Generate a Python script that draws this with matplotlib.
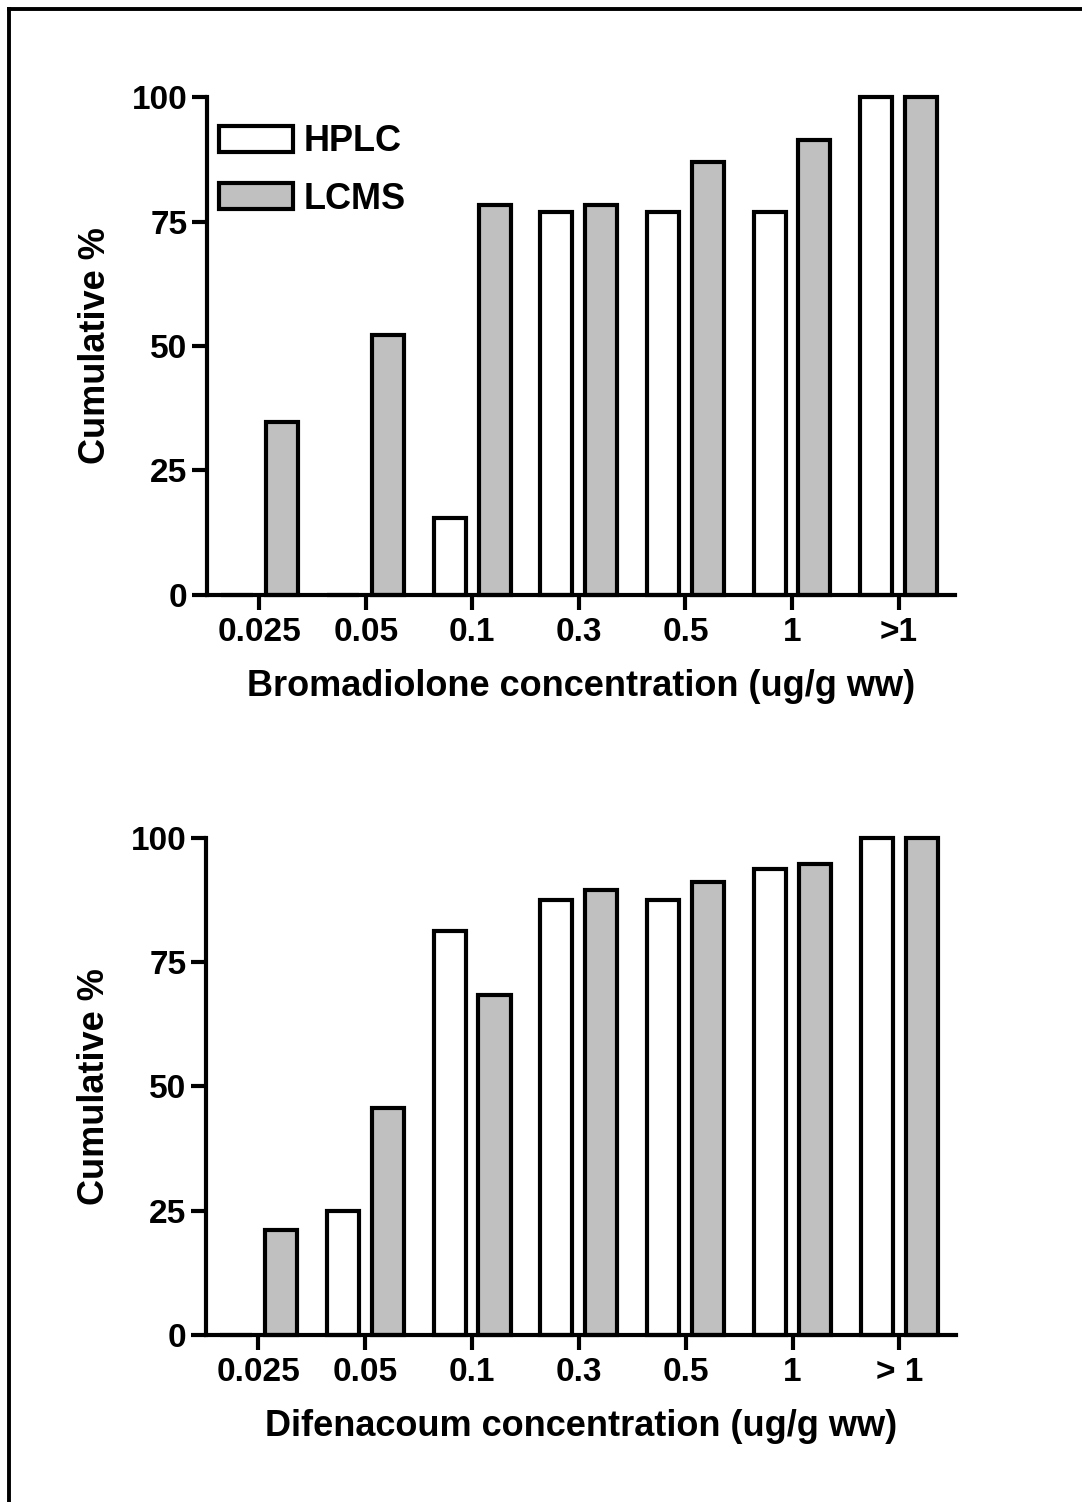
import matplotlib
matplotlib.use('Agg')
import matplotlib.pyplot as plt
from matplotlib.lines import Line2D
import numpy as np

plt.rcParams['font.family'] = ['Liberation Sans', 'DejaVu Sans']
plt.rcParams['font.weight'] = 'bold'

categorias_bromo = ['0.025', '0.05', '0.1', '0.3', '0.5', '1', '>1']
categorias_dife = ['0.025', '0.05', '0.1', '0.3', '0.5', '1', '> 1']

# cumulative % values
bromo_hplc = [0, 0, 15.4, 76.9, 76.9, 76.9, 100]
bromo_lcms = [34.8, 52.2, 78.3, 78.3, 87.0, 91.3, 100]
dife_hplc = [0, 25.0, 81.25, 87.5, 87.5, 93.75, 100]
dife_lcms = [21.1, 45.6, 68.4, 89.5, 91.2, 94.7, 100]

GRIS = '#c0c0c0'
LW = 3

fig = plt.figure(figsize=(10.82, 15.02), dpi=100)

def panel(rect, categorias, hplc, lcms, xlabel, leyenda=False):
    ax = fig.add_axes(rect)
    x = np.arange(len(categorias))
    ax.bar(x - 0.21, hplc, 0.30, color='white', edgecolor='black',
           linewidth=LW, label='HPLC', clip_on=False, zorder=2)
    ax.bar(x + 0.21, lcms, 0.30, color=GRIS, edgecolor='black',
           linewidth=LW, label='LCMS', clip_on=False, zorder=2)
    ax.set_xlim(-0.49, 6.53)
    ax.set_ylim(0, 100)
    ax.set_yticks([0, 25, 50, 75, 100])
    ax.set_xticks(x)
    ax.set_xticklabels(categorias)
    for s in ['top', 'right']:
        ax.spines[s].set_visible(False)
    for s in ['left', 'bottom']:
        ax.spines[s].set_linewidth(LW)
        ax.spines[s].set_zorder(3)
    ax.tick_params(axis='both', width=LW, length=11, labelsize=24)
    ax.tick_params(axis='x', pad=5)
    ax.tick_params(axis='y', pad=3)
    ax.set_xlabel(xlabel, fontsize=26, fontweight='bold', labelpad=15)
    ax.set_ylabel('Cumulative %', fontsize=26, fontweight='bold')
    ax.yaxis.set_label_coords(-0.125, 0.5)
    if leyenda:
        leg = ax.legend(loc='upper left', bbox_to_anchor=(0.016, 0.945),
                        frameon=False, fontsize=26, handlelength=2.05,
                        handleheight=0.72, handletextpad=0.3,
                        labelspacing=0.62, borderpad=0, borderaxespad=0)
        for p in leg.get_patches():
            p.set_linewidth(LW)
    return ax

panel([0.1913, 0.6039, 0.6913, 0.3315], categorias_bromo, bromo_hplc,
      bromo_lcms, 'Bromadiolone concentration (ug/g ww)', leyenda=True)
panel([0.1904, 0.1112, 0.6932, 0.3309], categorias_dife, dife_hplc,
      dife_lcms, 'Difenacoum concentration (ug/g ww)')

# frame lines (top and left) of the original figure
y_top = 1 - 8.5 / 1502
x_left = 8.5 / 1082
fig.add_artist(Line2D([x_left, 1], [y_top, y_top], color='black', lw=2.8))
fig.add_artist(Line2D([x_left, x_left], [0, y_top], color='black', lw=2.8))

plt.savefig('out.png', dpi=100)
